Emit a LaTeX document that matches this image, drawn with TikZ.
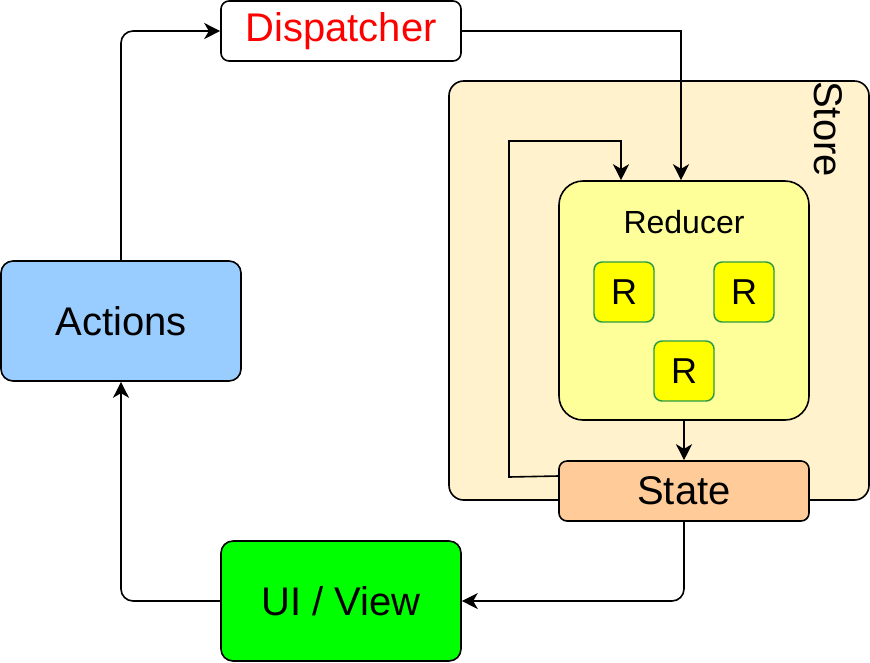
\documentclass[tikz,border=0pt]{standalone}
\usepackage{fontspec}
\setmainfont{Liberation Sans}
\usetikzlibrary{arrows.meta}
\definecolor{storefill}{HTML}{FFF2CC}
\definecolor{redfill}{HTML}{FFFF99}
\definecolor{rfill}{HTML}{FFFF00}
\definecolor{rline}{HTML}{2A9A48}
\definecolor{statefill}{HTML}{FFCC99}
\definecolor{actfill}{HTML}{99CCFF}
\definecolor{uifill}{HTML}{00FF00}
\definecolor{disptext}{HTML}{FF0000}
\begin{document}
\begin{tikzpicture}[x=0.75pt,y=-0.75pt,
  box/.style={draw=black,line width=1.2pt,inner sep=0pt,rounded corners=#1},
  box/.default=6pt,
  conn/.style={draw=black,line width=1.2pt,-{Stealth[length=12pt,width=12pt,inset=3.5pt]},rounded corners=9pt},
  rbox/.style={draw=rline,line width=1.1pt,fill=rfill,inner sep=0pt,rounded corners=6pt,
    minimum width=45pt,minimum height=45pt,font=\fontsize{27pt}{30pt}\selectfont},
  big/.style={font=\fontsize{30pt}{34pt}\selectfont}]
\useasboundingbox (0,0) rectangle (870,662);
% store
\node[box=11pt,fill=storefill,minimum width=315pt,minimum height=314.25pt] (store) at (659,290.5) {};
\node[big,rotate=-90] (storelbl) at (828,129) {Store};
% reducer
\node[box=18pt,fill=redfill,minimum width=187.5pt,minimum height=179.25pt] (reducer) at (684,300.5) {};
\node[font=\fontsize{24pt}{28pt}\selectfont] (redlbl) at (684,222) {Reducer};
\node[rbox] (r1) at (624,292) {R};
\node[rbox] (r2) at (744,292) {R};
\node[rbox] (r3) at (684,371) {R};
% state
\node[box=6pt,fill=statefill,minimum width=187.5pt,minimum height=45pt,big] (state) at (684,491) {State};
% dispatcher
\node[box=6pt,fill=white,minimum width=180pt,minimum height=45pt,big,text=disptext] (disp) at (341,31) {Dispatcher};
% actions
\node[box=9pt,fill=actfill,minimum width=180pt,minimum height=90pt,big] (act) at (121,321) {Actions};
% ui
\node[box=9pt,fill=uifill,minimum width=180pt,minimum height=90pt,big] (ui) at (341,601) {UI / View};
% connectors
\draw[conn] (act.north) |- (disp.west);
\draw[conn,rounded corners=0pt] (disp.east) -| (reducer.north -| 681,0);
\draw[conn,rounded corners=0pt] (state.west |- 0,476) -- (509,477) |- (621,141) -- (reducer.north -| 621,0);
\draw[conn] (reducer.south) -- (state.north);
\draw[conn] (state.south) |- (ui.east);
\draw[conn] (ui.west) -| (act.south);
\end{tikzpicture}
\end{document}
